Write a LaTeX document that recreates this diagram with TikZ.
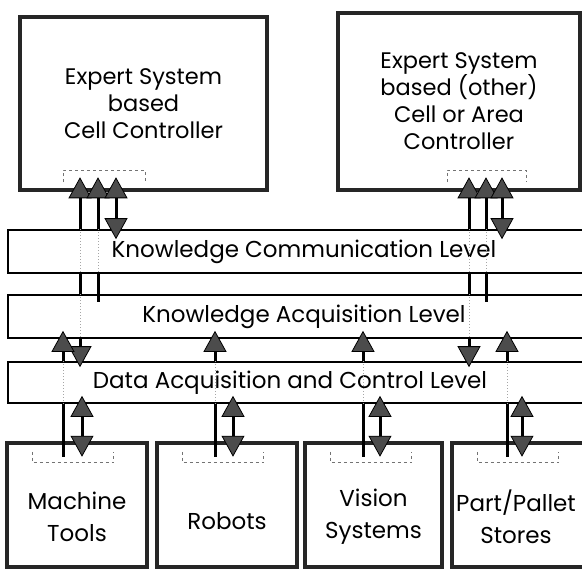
\documentclass[tikz,border=0pt]{standalone}
\usepackage{fontspec}
\setmainfont{Poppins}
\usetikzlibrary{arrows.meta}

\tikzset{
  ctrl/.style={draw=black!85, line width=4.5pt, fill=white, align=center,
    font=\fontsize{22.5}{27}\selectfont},
  unit/.style={draw=black!85, line width=4.5pt, fill=white, minimum height=124pt},
  unittext/.style={align=center, font=\fontsize{23}{32}\selectfont},
  band/.style={draw=black, line width=1.6pt, fill=white, minimum width=592pt,
    minimum height=43pt, font=\fontsize{23}{24}\selectfont},
  link/.style={line width=3pt},
  thru/.style={black!35, line width=1pt, dotted},
  brk/.style={black!55, line width=0.8pt, dashed},
}

\begin{document}
\begin{tikzpicture}[x=1pt, y=-1pt,
    >={Triangle[width=23pt, length=21pt, fill=black!70, color=black, line width=0.8pt]}]
  \useasboundingbox (0,0) rectangle (582,571);
  \clip (0,0) rectangle (582,571);

  % controllers
  \node[ctrl, minimum width=247pt, minimum height=173pt] (cc) at (143.5,103.5)
    {Expert System\\based\\Cell Controller};
  \node[ctrl, minimum width=242pt, minimum height=177pt] (ac) at (459,101.5)
    {Expert System\\based (other)\\Cell or Area\\Controller};

  % levels
  \node[band] (kc) at (304,251.5) {Knowledge Communication Level};
  \node[band] (ka) at (304,316.5) {Knowledge Acquisition Level};
  \node[band, minimum height=41pt] (da) at (304,382.5) {};
  \node[font=\fontsize{23}{24}\selectfont] (dat) at ([xshift=-14pt]da.center)
    {Data Acquisition and Control Level};

  % shop floor units
  \node[unit, minimum width=140pt] (mt) at (77,505) {};
  \node[unit, minimum width=140pt] (rb) at (227,505) {};
  \node[unit, minimum width=137pt] (vs) at (373.5,505) {};
  \node[unit, minimum width=138pt] (ps) at (521,505) {};
  \node[unittext] (mtt) at ([yshift=-12pt]mt.center) {Machine\\Tools};
  \node[unittext] (rbt) at ([yshift=-16pt]rb.center) {Robots};
  \node[unittext] (vst) at ([yshift=-12pt]vs.center) {Vision\\Systems};
  \node[unittext] (pst) at ([shift={(-5,12)}]ps.center) {Part/Pallet\\Stores};

  % brackets
  \draw[brk] (63,182) -- (63,170) -| (145,182);
  \draw[brk] (447,182) -- (447,170) -| (526,182);
  \foreach \u in {mt,rb,vs,ps}
    \draw[brk] ([shift={(28,11)}]\u.north west) -- ++(0,11) -| ([shift={(109,11)}]\u.north west);

  % x positions of the links
  \foreach \n/\x in {c1/80,c2/98,c3/116,d1/469,d2/486,d3/502,
                     m1/63,m2/82,r1/215,r2/233,v1/363,v2/380,p1/507,p2/522}
    \coordinate (\n) at (\x,0);

  % controller links
  \foreach \a/\b/\c/\u in {c1/c2/c3/cc, d1/d2/d3/ac} {
    \draw[thru] (\a |- kc.north) -- (\a |- kc.south);
    \draw[thru] (\a |- ka.north) -- (\a |- ka.south);
    \draw[thru] (\b |- kc.north) -- (\b |- kc.south);
    \draw[link,<-,shorten <=-15pt] (\a |- \u.south) -- (\a |- kc.north);
    \draw[link] (\a |- kc.south) -- (\a |- ka.north);
    \draw[link,->,shorten >=-6pt] (\a |- ka.south) -- (\a |- da.north);
    \draw[link,<-,shorten <=-15pt] (\b |- \u.south) -- (\b |- kc.north);
    \draw[link,shorten >=-8pt] (\b |- kc.south) -- (\b |- ka.north);
    \draw[link,<->,shorten <=-15pt,shorten >=-10pt] (\c |- \u.south) -- (\c |- kc.north);
  }

  % unit links
  \foreach \a/\b/\u in {m1/m2/mt, r1/r2/rb, v1/v2/vs, p1/p2/ps} {
    \draw[thru] (\a |- da.north) -- (\a |- da.south);
    \draw[link,shorten <=-16pt] (\a |- \u.north) -- (\a |- da.south);
    \draw[link,->,shorten >=-8pt] (\a |- da.north) -- (\a |- ka.south);
    \draw[link,<->,shorten <=-16pt,shorten >=-8pt] (\b |- \u.north) -- (\b |- da.south);
  }
\end{tikzpicture}
\end{document}
